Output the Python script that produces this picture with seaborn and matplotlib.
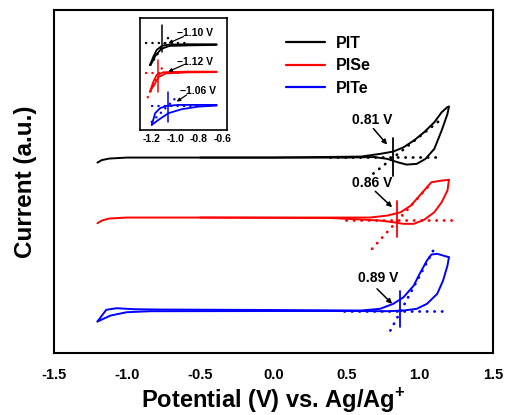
import numpy as np
import pandas as pd
import seaborn as sns
import matplotlib.pyplot as plt
from matplotlib.ticker import MultipleLocator

# ---- CV curves (potential in V, current in a.u.) ----
# PIT
pit_fwd_v = [-1.20, -1.17, -1.12, -1.00, 0.00, 0.60, 0.73, 0.82, 0.89, 0.96, 1.03, 1.10, 1.15, 1.19, 1.20]
pit_fwd_i = [19.0, 19.25, 19.4, 19.5, 19.5, 19.6, 19.87, 20.1, 20.53, 21.2, 22.03, 23.03, 24.03, 24.55, 24.6]
pit_rev_v = [1.20, 1.19, 1.15, 1.10, 1.04, 0.98, 0.91, 0.85, 0.78, 0.69, 0.50, -0.50]
pit_rev_i = [24.6, 23.87, 22.2, 20.37, 19.37, 18.87, 18.8, 19.03, 19.37, 19.55, 19.5, 19.5]
# PISe
pise_fwd_v = [-1.20, -1.17, -1.12, -1.00, 0.00, 0.60, 0.66, 0.78, 0.87, 0.94, 1.00, 1.08, 1.15, 1.20]
pise_fwd_i = [12.93, 13.2, 13.4, 13.5, 13.5, 13.5, 13.5, 13.7, 14.03, 14.7, 15.7, 17.03, 17.2, 17.27]
pise_rev_v = [1.20, 1.19, 1.15, 1.10, 1.03, 0.96, 0.89, 0.82, 0.73, 0.60, 0.40, -0.50]
pise_rev_i = [17.27, 16.2, 15.03, 14.03, 13.27, 12.87, 12.87, 13.03, 13.2, 13.3, 13.45, 13.5]
# PITe
pite_fwd_v = [-1.20, -1.14, -1.07, -0.95, -0.80, 0.00, 0.60, 0.73, 0.82, 0.89, 0.96, 1.00, 1.05, 1.08, 1.12, 1.16, 1.20]
pite_fwd_i = [3.1, 4.27, 4.43, 4.33, 4.3, 4.25, 4.2, 4.37, 4.87, 5.53, 6.7, 7.87, 9.2, 9.8, 9.87, 9.7, 9.53]
pite_rev_v = [1.20, 1.19, 1.16, 1.12, 1.05, 0.98, 0.89, 0.78, 0.50, 0.00, -0.84, -1.00, -1.11, -1.20]
pite_rev_i = [9.53, 8.7, 7.2, 5.87, 4.87, 4.37, 4.2, 4.13, 4.15, 4.15, 4.13, 4.03, 3.7, 3.1]

# onset construction (dotted tangents / baselines, vertical marks)
onset_labels = ["0.81 V", "0.86 V", "0.89 V"]
onset_v = [0.816, 0.846, 0.868]
onset_span = [(17.7, 21.5), (11.53, 15.2), (2.6, 6.2)]
tangent_v = [(0.684, 1.153), (0.675, 1.085), (0.80, 1.10)]
tangent_i = [(17.9, 23.4), (10.37, 17.03), (2.2, 10.4)]
base_v = [(0.39, 1.15), (0.50, 1.23), (0.48, 1.20)]
base_i = [19.53, 13.3, 4.2]
label_xy = [(0.675, 23.27), (0.675, 16.93), (0.72, 7.47)]
arrow_from = [(0.684, 22.4), (0.697, 16.13), (0.709, 6.37)]
arrow_to = [(0.778, 20.8), (0.812, 14.53), (0.812, 4.87)]

# ---- inset (reduction onset) ----
ins_pit_fwd_v = [-1.215, -1.186, -1.158, -1.115, -1.058, -0.90, -0.648]
ins_pit_fwd_i = [6.5, 7.33, 8.0, 8.4, 8.53, 8.57, 8.57]
ins_pit_rev_v = [-0.648, -0.90, -1.05, -1.12, -1.17, -1.20, -1.215]
ins_pit_rev_i = [8.5, 8.45, 8.4, 8.1, 7.4, 6.7, 6.5]
ins_pise_fwd_v = [-1.215, -1.186, -1.158, -1.10, -0.90, -0.648]
ins_pise_fwd_i = [3.83, 4.83, 5.5, 5.77, 5.83, 5.83]
ins_pise_rev_v = [-0.648, -0.90, -1.08, -1.14, -1.18, -1.215]
ins_pise_rev_i = [5.78, 5.75, 5.65, 5.3, 4.5, 3.83]
ins_pite_fwd_v = [-1.20, -1.171, -1.13, -1.073, -0.974, -0.80, -0.648]
ins_pite_fwd_i = [0.5, 1.67, 2.17, 2.4, 2.5, 2.5, 2.5]
ins_pite_rev_v = [-0.648, -0.803, -0.945, -1.058, -1.143, -1.20]
ins_pite_rev_i = [2.43, 2.33, 2.07, 1.67, 1.0, 0.5]

ins_labels = ["\u22121.10 V", "\u22121.12 V", "\u22121.06 V"]
ins_onset_v = [-1.115, -1.143, -1.058]
ins_onset_span = [(7.83, 10.5), (3.83, 7.0), (0.83, 3.83)]
ins_tangent_v = [(-1.21, -1.05), (-1.234, -1.093), (-1.20, -0.99)]
ins_tangent_i = [(6.5, 9.4), (3.27, 6.67), (0.8, 3.27)]
ins_base_v = [(-1.25, -0.90), (-1.25, -0.95), (-1.20, -0.80)]
ins_base_i = [8.67, 5.73, 2.4]
ins_label_xy = [(-0.832, 9.73), (-0.832, 6.83), (-0.804, 3.9)]
ins_arrow_from = [(-0.931, 9.33), (-0.931, 6.5), (-0.903, 3.5)]
ins_arrow_to = [(-1.059, 8.67), (-1.059, 5.83), (-0.988, 2.83)]

polymers = ["PIT", "PISe", "PITe"]
colors = ["black", "red", "blue"]


def to_frame(curves):
    rows = []
    for name, branch, vv, ii in curves:
        for k, (v, i) in enumerate(zip(vv, ii)):
            rows.append({"Potential": v, "Current": i, "polymer": name,
                         "branch": name + branch, "order": k})
    return pd.DataFrame(rows)


main_df = to_frame([
    ("PIT", "f", pit_fwd_v, pit_fwd_i), ("PIT", "r", pit_rev_v, pit_rev_i),
    ("PISe", "f", pise_fwd_v, pise_fwd_i), ("PISe", "r", pise_rev_v, pise_rev_i),
    ("PITe", "f", pite_fwd_v, pite_fwd_i), ("PITe", "r", pite_rev_v, pite_rev_i),
])
ins_df = to_frame([
    ("PIT", "f", ins_pit_fwd_v, ins_pit_fwd_i), ("PIT", "r", ins_pit_rev_v, ins_pit_rev_i),
    ("PISe", "f", ins_pise_fwd_v, ins_pise_fwd_i), ("PISe", "r", ins_pise_rev_v, ins_pise_rev_i),
    ("PITe", "f", ins_pite_fwd_v, ins_pite_fwd_i), ("PITe", "r", ins_pite_rev_v, ins_pite_rev_i),
])

sns.set_style("white")
plt.rcParams["font.family"] = ["Liberation Sans", "DejaVu Sans"]
plt.rcParams["font.weight"] = "bold"
plt.rcParams["text.color"] = "black"
plt.rcParams["axes.labelcolor"] = "black"
plt.rcParams["xtick.color"] = "black"
plt.rcParams["mathtext.fontset"] = "custom"
plt.rcParams["mathtext.bf"] = "Liberation Sans:bold"
plt.rcParams["mathtext.rm"] = "Liberation Sans:bold"

fig = plt.figure(figsize=(5.05, 4.15), dpi=100)
ax = fig.add_axes([0.106, 0.1506, 0.870, 0.825])
palette = dict(zip(polymers, colors))
dots = (0, (0.1, 2.6))

sns.lineplot(data=main_df, x="Potential", y="Current", hue="polymer", units="branch",
             estimator=None, sort=False, palette=palette, hue_order=polymers,
             linewidth=1.4, ax=ax)

for k, c in enumerate(colors):
    ax.plot(tangent_v[k], tangent_i[k], color=c, lw=2.0, ls=dots, dash_capstyle="round")
    ax.plot(base_v[k], [base_i[k], base_i[k]], color=c, lw=2.0, ls=dots, dash_capstyle="round")
    ax.plot([onset_v[k], onset_v[k]], onset_span[k], color=c, lw=1.3)
    ax.annotate(onset_labels[k], xy=arrow_to[k], xytext=label_xy[k], fontsize=10,
                fontweight="bold", ha="center", va="center", color="black")
    ax.annotate("", xy=arrow_to[k], xytext=arrow_from[k],
                arrowprops=dict(arrowstyle="-|>", color="black", lw=1.1,
                                mutation_scale=7, shrinkA=0, shrinkB=0))

ax.set_xlim(-1.5, 1.5)
ax.set_ylim(0, 34.25)
ax.xaxis.set_minor_locator(MultipleLocator(0.25))
ax.set_yticks([])
ax.set_xticks(np.arange(-1.5, 1.51, 0.5))
ax.set_xticklabels(["-1.5", "-1.0", "-0.5", "0.0", "0.5", "1.0", "1.5"], fontweight="bold")
ax.tick_params(axis="x", which="major", direction="in", length=9, width=1.3,
               labelsize=10.5, pad=11, top=False, colors="black")
ax.tick_params(axis="x", which="minor", direction="in", length=5, width=1.3, top=False,
               colors="black")
for s in ax.spines.values():
    s.set_linewidth(1.5)
    s.set_color("black")
ax.set_xlabel(r"Potential (V) vs. Ag/Ag$^{\mathbf{+}}$", fontsize=17, fontweight="bold",
              labelpad=3, color="black")
ax.set_ylabel("Current (a.u.)", fontsize=17.5, fontweight="bold", labelpad=12, color="black")

leg = ax.legend(loc="upper left", bbox_to_anchor=(0.529, 0.925), frameon=False,
                fontsize=11.5, handlelength=2.45, handletextpad=0.65,
                labelspacing=0.47, borderpad=0, borderaxespad=0)
for line in leg.get_lines():
    line.set_linewidth(1.6)
for t in leg.get_texts():
    t.set_color("black")

# inset
axin = fig.add_axes([0.2772, 0.687, 0.1723, 0.269])
sns.lineplot(data=ins_df, x="Potential", y="Current", hue="polymer", units="branch",
             estimator=None, sort=False, palette=palette, hue_order=polymers,
             linewidth=1.3, legend=False, ax=axin)
for k, c in enumerate(colors):
    axin.plot(ins_tangent_v[k], ins_tangent_i[k], color=c, lw=1.7, ls=(0, (0.1, 2.6)),
              dash_capstyle="round")
    axin.plot(ins_base_v[k], [ins_base_i[k], ins_base_i[k]], color=c, lw=1.7,
              ls=(0, (0.1, 2.6)), dash_capstyle="round")
    axin.plot([ins_onset_v[k], ins_onset_v[k]], ins_onset_span[k], color=c, lw=1.1)
    axin.annotate(ins_labels[k], xy=ins_arrow_to[k], xytext=ins_label_xy[k], fontsize=7.5,
                  fontweight="bold", ha="center", va="center", color="black")
    axin.annotate("", xy=ins_arrow_to[k], xytext=ins_arrow_from[k],
                  arrowprops=dict(arrowstyle="-|>", color="black", lw=0.9,
                                  mutation_scale=5, shrinkA=0, shrinkB=0))
axin.set_xlim(-1.3, -0.56)
axin.set_ylim(0, 11.17)
axin.set_xticks([-1.2, -1.0, -0.8, -0.6])
axin.set_xticklabels(["-1.2", "-1.0", "-0.8", "-0.6"], fontweight="bold")
axin.xaxis.set_minor_locator(MultipleLocator(0.1))
axin.set_yticks([])
axin.tick_params(axis="x", which="major", direction="in", length=4, width=1.0,
                 labelsize=7.5, pad=3, colors="black")
axin.tick_params(axis="x", which="minor", direction="in", length=2, width=1.0,
                 colors="black")
axin.set_xlabel("")
axin.set_ylabel("")
for s in axin.spines.values():
    s.set_linewidth(1.2)
    s.set_color("black")

fig.savefig("out.png", dpi=100)
